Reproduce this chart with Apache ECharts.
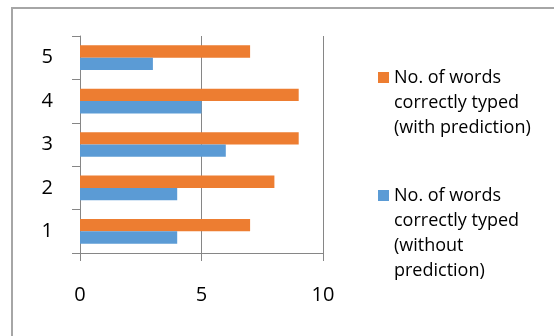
<!DOCTYPE html>
<html>
<head>
<meta charset="utf-8">
<script src="https://cdn.jsdelivr.net/npm/echarts@6/dist/echarts.min.js"></script>
<style>
html,body{margin:0;padding:0;background:#fff;}
#c{width:554px;height:336px;}
</style>
</head>
<body>
<div id="c"></div>
<script>
var categories = ['1', '2', '3', '4', '5'];
var withPrediction = [7, 8, 9, 9, 7];
var withoutPrediction = [4, 4, 6, 5, 3];
var nameWith = 'No. of words\ncorrectly typed\n(with prediction)';
var nameWithout = 'No. of words\ncorrectly typed\n(without\nprediction)';
var xTicks = { min: 0, max: 10, interval: 5 };

var chart = echarts.init(document.getElementById('c'));
var axisGrey = '#868686';
var font = 'Open Sans';
chart.setOption({
  animation: false,
  textStyle: { fontFamily: font },
  graphic: [{
    type: 'polyline',
    shape: { points: [[12, 336], [12, 8], [554, 8]] },
    style: { stroke: '#a6a6a6', lineWidth: 2, fill: null }
  }],
  grid: { left: 80, right: 231, top: 36, bottom: 83 },
  legend: {
    orient: 'vertical',
    left: 378,
    top: 15,
    padding: 0,
    itemGap: -32,
    itemWidth: 11,
    itemHeight: 11,
    icon: 'rect',
    textStyle: { fontFamily: font, fontSize: 18, lineHeight: 25, color: '#000' },
    formatter: function (name) {
      var lines = name.split('\n').length;
      return new Array(lines).join('\n') + name;
    },
    data: [nameWith, nameWithout]
  },
  xAxis: {
    type: 'value',
    min: xTicks.min, max: xTicks.max, interval: xTicks.interval,
    axisLine: { show: true, lineStyle: { color: axisGrey, width: 1 } },
    axisTick: { show: true, length: 8, lineStyle: { color: axisGrey } },
    splitLine: { show: true, lineStyle: { color: axisGrey, width: 1 } },
    axisLabel: { margin: 32, fontSize: 20, color: '#000', fontFamily: font }
  },
  yAxis: {
    type: 'category',
    data: categories,
    axisLine: { show: true, lineStyle: { color: axisGrey, width: 1 } },
    axisTick: { show: true, length: 8, lineStyle: { color: axisGrey } },
    axisLabel: { margin: 27, fontSize: 20, color: '#000', fontFamily: font, padding: [4, 0, 0, 0] }
  },
  series: [
    {
      name: nameWith, type: 'bar', data: withPrediction,
      itemStyle: { color: '#ED7D31' },
      barGap: '0%', barCategoryGap: '43%'
    },
    {
      name: nameWithout, type: 'bar', data: withoutPrediction,
      itemStyle: { color: '#5B9BD5' },
      barGap: '0%', barCategoryGap: '43%'
    }
  ]
});
</script>
</body>
</html>
